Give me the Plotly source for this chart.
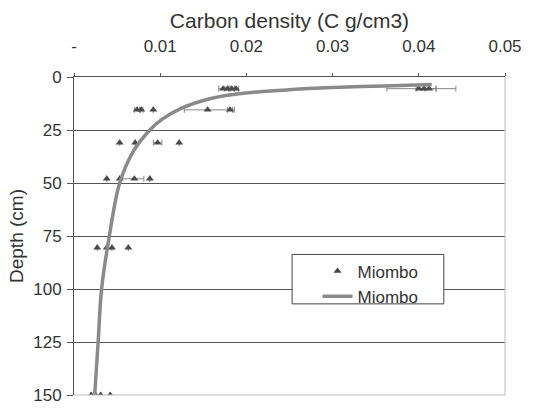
import plotly.graph_objects as go

# observed points (carbon density, depth)
obs_x = [0.0173, 0.0178, 0.0183, 0.0188, 0.0400, 0.0406, 0.0412,
         0.0073, 0.0078, 0.0092, 0.0155, 0.0181,
         0.0053, 0.0071, 0.0097, 0.0122,
         0.0038, 0.0053, 0.0070, 0.0088,
         0.0027, 0.0038, 0.0044, 0.0063,
         0.0020, 0.0025, 0.0031, 0.0042]
obs_y = [5.5, 5.5, 5.5, 5.5, 5.5, 5.5, 5.5,
         15.5, 15.5, 15.5, 15.5, 15.5,
         31, 31, 31, 31,
         48, 48, 48, 48,
         80.5, 80.5, 80.5, 80.5,
         150, 150, 150, 150]
err_plus = [0.0006, 0.0004, 0.0003, 0.0003, 0.0020, 0.0037, 0.0008,
            0.0004, 0.0002, 0.0, 0.0031, 0.0003,
            0.0, 0.0, 0.0005, 0.0,
            0.0, 0.0, 0.0011, 0.0,
            0.0, 0.0, 0.0, 0.0,
            0.0, 0.0, 0.0, 0.0]
err_minus = [0.0005, 0.0003, 0.0003, 0.0002, 0.0037, 0.0009, 0.0005,
             0.0003, 0.0002, 0.0, 0.0027, 0.0003,
             0.0, 0.0, 0.0005, 0.0,
             0.0, 0.0, 0.0017, 0.0,
             0.0, 0.0, 0.0, 0.0,
             0.0, 0.0, 0.0, 0.0]

# fitted trend line
fit_y = [3.5, 4.2, 5, 6, 7.5, 10, 15, 20, 25, 35, 50, 75, 100, 125, 150]
fit_x = [0.0415, 0.036, 0.030, 0.025, 0.020, 0.0160, 0.0123, 0.0102, 0.0088,
         0.0069, 0.0053, 0.0041, 0.0032, 0.0028, 0.0024]

x_ticks = [0, 0.01, 0.02, 0.03, 0.04, 0.05]
x_labels = ["-", "0.01", "0.02", "0.03", "0.04", "0.05"]
y_ticks = [0, 25, 50, 75, 100, 125, 150]

font = "Liberation Sans, Arial, sans-serif"

fig = go.Figure()
fig.add_trace(go.Scatter(
    x=obs_x, y=obs_y, mode="markers", name="Miombo",
    marker=dict(symbol="triangle-up", size=7, color="#4a4a4a"),
    error_x=dict(type="data", symmetric=False, array=err_plus, arrayminus=err_minus,
                 color="#888888", thickness=1, width=3),
))
fig.add_trace(go.Scatter(
    x=fit_x, y=fit_y, mode="lines", name="Miombo",
    line=dict(color="#8a8a8a", width=3.5, shape="spline", smoothing=1.0),
))

fig.update_layout(
    width=559, height=414,
    margin=dict(l=74, r=54, t=77, b=9),
    paper_bgcolor="white", plot_bgcolor="white",
    font=dict(family=font, size=17, color="#333333"),
    showlegend=True,
    legend=dict(x=0.565, y=0.445, xanchor="left", yanchor="top",
                bgcolor="rgba(0,0,0,0)", borderwidth=0,
                font=dict(size=17, color="#333333"), tracegroupgap=0),
)
fig.update_xaxes(
    side="top", range=[0, 0.05], tickvals=x_ticks, ticktext=x_labels,
    showgrid=False, zeroline=False, showline=True, linecolor="#555555",
    ticks="outside", ticklen=3, tickcolor="#555555", ticklabelstandoff=14,
    tickfont=dict(size=17),
    title=dict(text="Carbon density (C g/cm3)", font=dict(size=21, color="#333333"), standoff=2),
    mirror=False,
)
fig.update_yaxes(
    range=[150, 0], tickvals=y_ticks, showgrid=True, gridcolor="#555555", gridwidth=1,
    zeroline=False, showline=True, linecolor="#555555", ticks="outside", ticklen=6,
    tickcolor="#555555", ticklabelstandoff=2, ticklabeloverflow="allow",
    title=dict(text="Depth (cm)", font=dict(size=19, color="#333333"), standoff=4),
    tickfont=dict(size=17),
)
# right/bottom light border
fig.add_shape(type="line", xref="paper", yref="paper", x0=1, x1=1, y0=0, y1=1,
              line=dict(color="#bbbbbb", width=1))
fig.add_shape(type="line", xref="paper", yref="paper", x0=0, x1=1, y0=0, y1=0,
              line=dict(color="#bbbbbb", width=1))
# legend box
fig.add_shape(type="rect", xref="paper", yref="paper", x0=0.506, x1=0.858, y0=0.2866, y1=0.442,
              line=dict(color="#444444", width=1), fillcolor="white", layer="above")

fig.write_html("out.html")
